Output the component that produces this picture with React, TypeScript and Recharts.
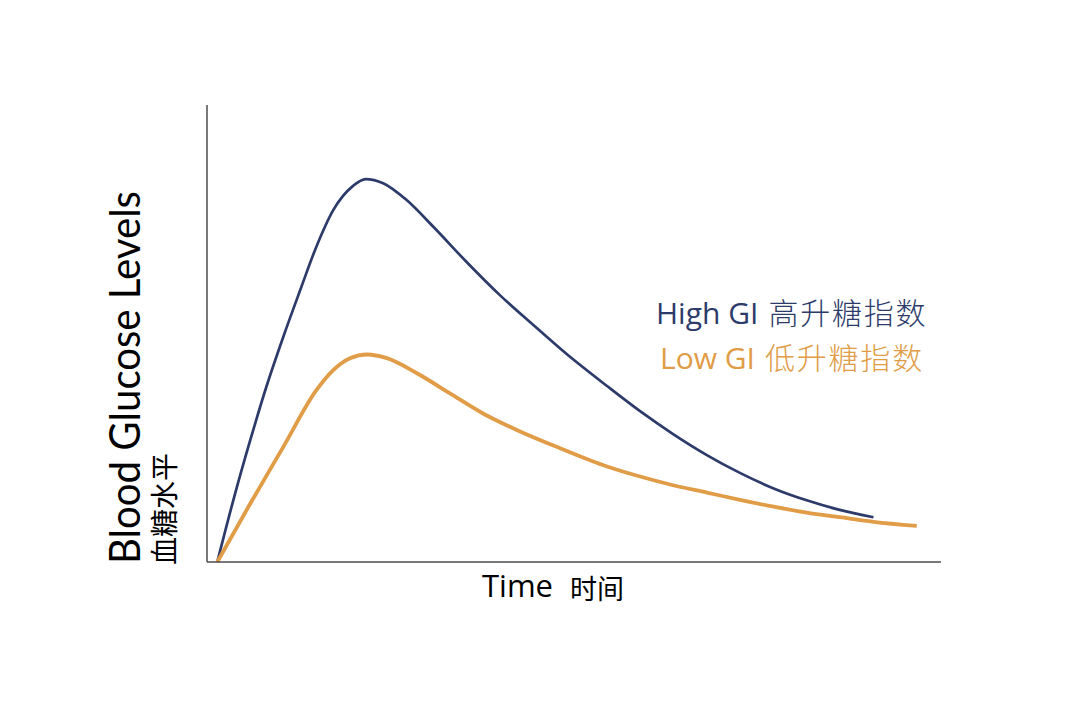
import { Legend, Line, LineChart, XAxis, YAxis } from 'recharts'

// time and level on a 0-100 scale
const highTime = [1.4, 3.6, 5.9, 8.1, 10.4, 12.7, 14.9, 17.2, 19.9, 21.6, 24.0, 27.2, 30.8, 35.4, 39.9, 44.5, 49.0, 54.5, 59.0, 63.5, 68.1, 72.6, 77.2, 81.7, 86.2, 90.8]
const highLevel = [0, 13.6, 26.7, 38.4, 49.3, 59.5, 69.0, 77.0, 82.3, 83.8, 82.9, 79.2, 73.4, 65.6, 58.4, 51.8, 45.5, 38.5, 33.0, 28.0, 23.4, 19.5, 16.1, 13.5, 11.4, 9.8]

const lowTime = [1.4, 5.9, 10.4, 14.9, 17.2, 19.5, 21.8, 24.5, 28.6, 33.1, 37.6, 42.2, 48.1, 54.5, 59.0, 63.5, 68.1, 72.6, 77.2, 81.7, 86.2, 90.8, 96.7]
const lowLevel = [0, 12.8, 25.2, 37.6, 42.0, 44.6, 45.4, 44.6, 41.3, 36.9, 32.5, 28.9, 24.9, 20.9, 18.7, 16.8, 15.2, 13.6, 12.1, 10.8, 9.8, 8.8, 7.9]

const seriesLabels = [
  { en: 'High GI', zh: '高升糖指数', color: '#2d3b6b' },
  { en: 'Low GI', zh: '低升糖指数', color: '#e09c46' },
]

const yTitle = 'Blood Glucose Levels'
const yTitleZh = '血糖水平'
const xTitle = 'Time'
const xTitleZh = '时间'

const highData = highTime.map((t, i) => ({ t, v: highLevel[i] }))
const lowData = lowTime.map((t, i) => ({ t, v: lowLevel[i] }))

const font = '"Open Sans", "Noto Sans CJK SC", sans-serif'
const cjk = '"Noto Sans CJK SC", sans-serif'

function SeriesLegend() {
  return (
    <div style={{ fontFamily: font }}>
      {seriesLabels.map((s, i) => (
        <div
          key={s.en}
          style={{ color: s.color, whiteSpace: 'nowrap', height: 45, lineHeight: '45px', paddingLeft: i === 0 ? 0 : 4 }}
        >
          <span style={{ fontSize: 30, lineHeight: '45px' }}>{s.en}</span>
          <span style={{ fontSize: 30, lineHeight: '45px', letterSpacing: 1.8, fontFamily: cjk, fontWeight: 300, marginLeft: 10 }}>
            {s.zh}
          </span>
        </div>
      ))}
    </div>
  )
}

export default function App() {
  return (
    <div style={{ position: 'absolute', left: 0, top: 0, width: 1080, height: 720, background: '#fff' }}>
      <LineChart width={1080} height={720} data={lowData} margin={{ top: 105, right: 139, bottom: 157, left: 206 }}>
        <XAxis
          type="number"
          dataKey="t"
          domain={[0, 100]}
          tick={false}
          tickLine={false}
          height={1}
          axisLine={{ stroke: '#4d4d4d', strokeWidth: 1.5 }}
        />
        <YAxis
          type="number"
          dataKey="v"
          domain={[0, 100]}
          tick={false}
          tickLine={false}
          width={1}
          axisLine={{ stroke: '#4d4d4d', strokeWidth: 1.5 }}
        />
        <Legend
          layout="horizontal"
          verticalAlign="middle"
          content={() => <SeriesLegend />}
          wrapperStyle={{ left: 656, top: 289, width: 320 }}
        />
        <Line
          data={highData}
          dataKey="v"
          type="monotone"
          stroke="#2d3b6b"
          strokeWidth={2.7}
          dot={false}
          isAnimationActive={false}
        />
        <Line
          data={lowData}
          dataKey="v"
          type="monotone"
          stroke="#e09c46"
          strokeWidth={3.8}
          dot={false}
          isAnimationActive={false}
        />
      </LineChart>
      <svg width={1080} height={720} style={{ position: 'absolute', left: 0, top: 0, pointerEvents: 'none' }}>
        <text
          transform="translate(140, 564) rotate(-90)"
          fontFamily='Lato, "Open Sans", sans-serif'
          fontSize={42}
          fill="#000"
          textLength={373}
          lengthAdjust="spacingAndGlyphs"
        >
          {yTitle}
        </text>
        <text transform="translate(175, 565) rotate(-90)" fontFamily={cjk} fontSize={28} fill="#000">
          {yTitleZh}
        </text>
        <text x={482} y={597} fontFamily={font} fill="#000">
          <tspan fontSize={31}>{xTitle}</tspan>
          <tspan x={570} y={599} fontSize={27} fontFamily={cjk}>{xTitleZh}</tspan>
        </text>
      </svg>
    </div>
  )
}
